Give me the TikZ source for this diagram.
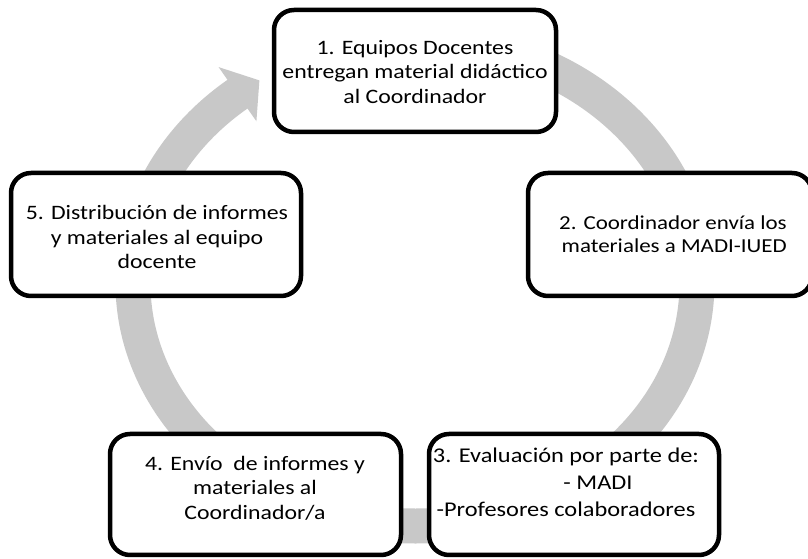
\documentclass[tikz,border=0pt]{standalone}
\usepackage{fontspec}
\setmainfont{Carlito}[FakeStretch=1.16]
\definecolor{ringgray}{RGB}{200,200,200}
\tikzset{
  stepbox/.style={draw=black, line width=4.5pt, rounded corners=20pt, fill=white, inner sep=0pt},
  boxtext/.style={align=center, inner sep=0pt, font=\fontsize{20.5pt}{24.5pt}\selectfont, text=black},
  ringband/.style={draw=ringgray, line width=35pt},
  ringhead/.style={fill=ringgray, draw=none}
}
\begin{document}
\begin{tikzpicture}[x=1pt,y=1pt]
\useasboundingbox (0,0) rectangle (808,559);
% grey cycle ring (ellipse centre 415,276; radii 282 x 243)
\coordinate (ringstart) at (439.58,518.08);
\coordinate (tip) at (259.4,478.6);
\coordinate (barbA) at (256.4,437.7);
\coordinate (barbB) at (218.6,491.9);
\draw[ringband] (ringstart) arc[start angle=85, end angle=-232, x radius=282pt, y radius=243pt];
\fill[ringhead] (tip) -- (barbA) -- (barbB) -- cycle;
% boxes
\node[stepbox, minimum width=282pt, minimum height=122pt] (b1) at (415,488) {};
\node[stepbox, minimum width=284pt, minimum height=123pt] (b2) at (670,324.5) {};
\node[stepbox, minimum width=290pt, minimum height=123pt] (b5) at (156,324.5) {};
\node[stepbox, minimum width=291pt, minimum height=121pt] (b4) at (255.5,64.5) {};
\node[stepbox, minimum width=290pt, minimum height=121pt] (b3) at (574,64.5) {};
% texts
\node[boxtext] (t1) at (415,487) {1. Equipos Docentes\\entregan material didáctico\\al Coordinador};
\node[boxtext, align=right, anchor=east, font=\fontsize{19.8pt}{23.5pt}\selectfont] (t2) at (787,325) {2. Coordinador envía los\\materiales a MADI-IUED};
\node[boxtext] (t5) at (157,322) {5. Distribución de informes\\y materiales al equipo\\docente};
\node[boxtext] (t4) at (255,71) {4. Envío\ \ de informes y\\materiales al\\Coordinador/a};
\node[boxtext, font=\fontsize{21pt}{24.5pt}\selectfont] (t3) at (566,76.5) {3. Evaluación por parte de:\\[2.5pt]\hspace*{64pt}- MADI\\[2.5pt]-Profesores colaboradores};
\end{tikzpicture}
\end{document}
